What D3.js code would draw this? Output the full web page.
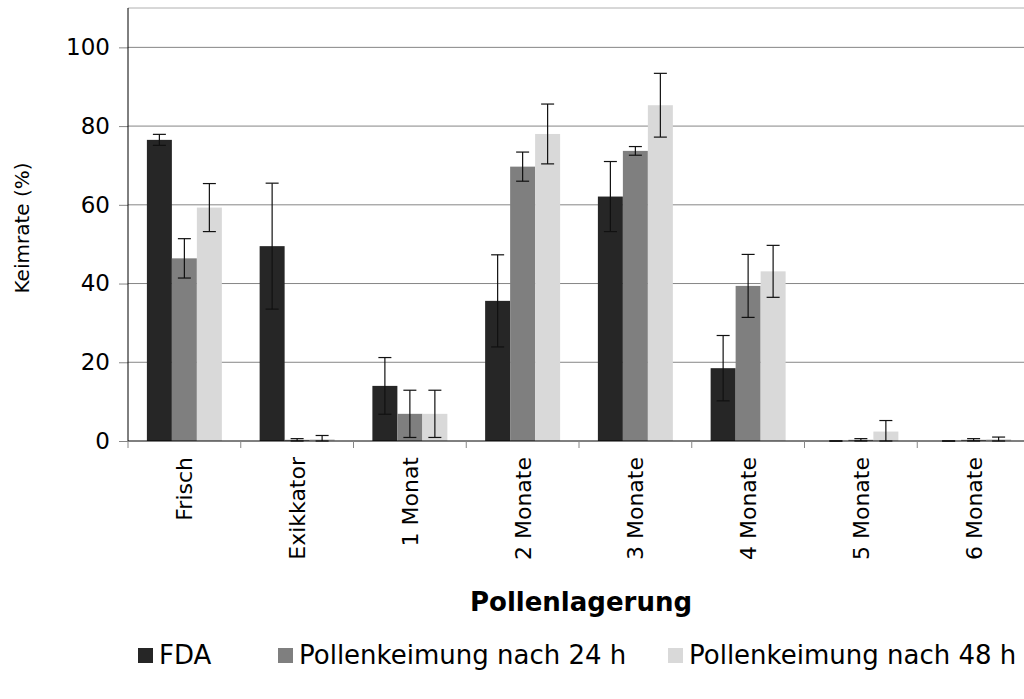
<!DOCTYPE html>
<html>
<head>
<meta charset="utf-8">
<script src="https://cdn.jsdelivr.net/npm/d3@7"></script>
<style>
  body { margin: 0; background: #fff; }
  text { font-family: "DejaVu Sans", sans-serif; }
</style>
</head>
<body>
<div id="chart-area"></div>
<script>
// Data
var categories = ["Frisch", "Exikkator", "1 Monat", "2 Monate", "3 Monate", "4 Monate", "5 Monate", "6 Monate"];
var seriesNames = ["FDA", "Pollenkeimung nach 24 h", "Pollenkeimung nach 48 h"];
var seriesColors = ["#262626", "#7f7f7f", "#d9d9d9"];

var fdaValues  = [76.5, 49.5, 14.0, 35.6, 62.1, 18.5, 0, 0];
var fdaErrors  = [1.4, 16.0, 7.2, 11.7, 8.9, 8.3, 0, 0];
var h24Values  = [46.4, 0.3, 6.9, 69.7, 73.7, 39.4, 0.3, 0.3];
var h24Errors  = [5.0, 0.3, 6.0, 3.7, 1.1, 8.0, 0.3, 0.3];
var h48Values  = [59.3, 0.5, 6.9, 78.0, 85.3, 43.1, 2.4, 0.5];
var h48Errors  = [6.1, 0.9, 6.0, 7.6, 8.1, 6.6, 2.8, 0.5];

var yTicks = [0, 20, 40, 60, 80, 100];

var series = [
    { name: seriesNames[0], values: fdaValues, errors: fdaErrors },
    { name: seriesNames[1], values: h24Values, errors: h24Errors },
    { name: seriesNames[2], values: h48Values, errors: h48Errors }
];

var margin = { left: 128, right: -6, top: 8, bottom: 258 };
var width = 1024 - margin.left - margin.right,
    height = 699 - margin.top - margin.bottom;

var svg = d3.select("#chart-area")
    .append("svg")
    .attr("width", 1024)
    .attr("height", 699);

var g = svg.append("g")
    .attr("transform", "translate(" + margin.left + "," + margin.top + ")");

// Scales
var x = d3.scaleBand()
    .domain(categories)
    .range([0, width])
    .paddingInner(0.335)
    .paddingOuter(0.1675);
var xSub = d3.scaleBand()
    .domain(seriesNames)
    .range([0, x.bandwidth()]);
var y = d3.scaleLinear()
    .domain([0, 110])
    .range([height, 0]);
var color = d3.scaleOrdinal()
    .domain(seriesNames)
    .range(seriesColors);

// Gridlines
g.append("g")
    .attr("class", "grid")
    .selectAll("line")
    .data(yTicks.filter(function(d){ return d > 0; }).concat([110]))
    .enter().append("line")
        .attr("x1", 0)
        .attr("x2", width)
        .attr("y1", function(d){ return y(d); })
        .attr("y2", function(d){ return y(d); })
        .attr("stroke", function(d){ return d == 110 ? "#b0b0b0" : "#868686"; })
        .attr("stroke-width", 1);

// Y Axis
var yAxisCall = d3.axisLeft(y)
    .tickValues(yTicks)
    .tickSize(9)
    .tickPadding(9);
var yAxis = g.append("g")
    .attr("class", "y axis")
    .call(yAxisCall);
yAxis.select(".domain").remove();
yAxis.selectAll(".tick line").attr("stroke", "#868686");
yAxis.selectAll(".tick text")
    .attr("font-family", "DejaVu Sans")
    .attr("font-size", "23px")
    .attr("fill", "#000");
g.append("line")
    .attr("x1", 0).attr("x2", 0)
    .attr("y1", 0).attr("y2", height)
    .attr("stroke", "#000");

// Bars
var groups = g.selectAll(".group")
    .data(categories)
    .enter().append("g")
        .attr("class", "group")
        .attr("transform", function(d){ return "translate(" + x(d) + ",0)"; });

groups.selectAll("rect")
    .data(function(d, i){
        return series.map(function(s){ return { name: s.name, value: s.values[i], err: s.errors[i] }; });
    })
    .enter().append("rect")
        .attr("x", function(d){ return xSub(d.name); })
        .attr("width", xSub.bandwidth())
        .attr("y", function(d){ return y(d.value); })
        .attr("height", function(d){ return height - y(d.value); })
        .attr("fill", function(d){ return color(d.name); });

// Error bars
var capHalf = 6.5;
var errs = groups.selectAll(".err")
    .data(function(d, i){
        return series.map(function(s){ return { name: s.name, value: s.values[i], err: s.errors[i] }; });
    })
    .enter().append("g")
        .attr("class", "err")
        .attr("transform", function(d){ return "translate(" + (xSub(d.name) + xSub.bandwidth() / 2) + ",0)"; })
        .attr("stroke", "#111")
        .attr("stroke-width", 1.2);
errs.append("line")
    .attr("y1", function(d){ return y(d.value + d.err); })
    .attr("y2", function(d){ return y(Math.max(0, d.value - d.err)); });
errs.append("line")
    .attr("x1", -capHalf).attr("x2", capHalf)
    .attr("y1", function(d){ return y(d.value + d.err); })
    .attr("y2", function(d){ return y(d.value + d.err); });
errs.append("line")
    .attr("x1", -capHalf).attr("x2", capHalf)
    .attr("y1", function(d){ return y(Math.max(0, d.value - d.err)); })
    .attr("y2", function(d){ return y(Math.max(0, d.value - d.err)); });

// X Axis
g.append("line")
    .attr("x1", 0).attr("x2", width)
    .attr("y1", height).attr("y2", height)
    .attr("stroke", "#000");
g.append("g")
    .selectAll("line")
    .data(categories)
    .enter().append("line")
        .attr("x1", function(d){ return x(d) - x.step() * x.paddingInner() / 2; })
        .attr("x2", function(d){ return x(d) - x.step() * x.paddingInner() / 2; })
        .attr("y1", height)
        .attr("y2", height + 7)
        .attr("stroke", "#868686");
g.append("g")
    .selectAll("text")
    .data(categories)
    .enter().append("text")
        .attr("transform", function(d){
            return "translate(" + (x(d) + x.bandwidth() / 2) + "," + (height + 16) + ") rotate(-90)";
        })
        .attr("text-anchor", "end")
        .attr("dy", "0.36em")
        .attr("font-size", "22px")
        .text(function(d){ return d; });

// Labels
g.append("text")
    .attr("x", 581 - margin.left)
    .attr("y", 611 - margin.top)
    .attr("text-anchor", "middle")
    .attr("font-size", "26px")
    .attr("font-weight", "bold")
    .text("Pollenlagerung");
svg.append("text")
    .attr("transform", "translate(29,228) rotate(-90)")
    .attr("text-anchor", "middle")
    .attr("font-size", "20px")
    .text("Keimrate (%)");

// Legend
var legendX = [138, 278, 668];
var legend = svg.selectAll(".legend")
    .data(seriesNames)
    .enter().append("g")
        .attr("class", "legend")
        .attr("transform", function(d, i){ return "translate(" + legendX[i] + ",655)"; });
legend.append("rect")
    .attr("x", 0).attr("y", -7)
    .attr("width", 15).attr("height", 15)
    .attr("fill", function(d){ return color(d); });
legend.append("text")
    .attr("x", 21)
    .attr("dy", "0.36em")
    .attr("font-family", "DejaVu Sans Condensed")
    .attr("font-size", "26px")
    .text(function(d){ return d; });
</script>
</body>
</html>
